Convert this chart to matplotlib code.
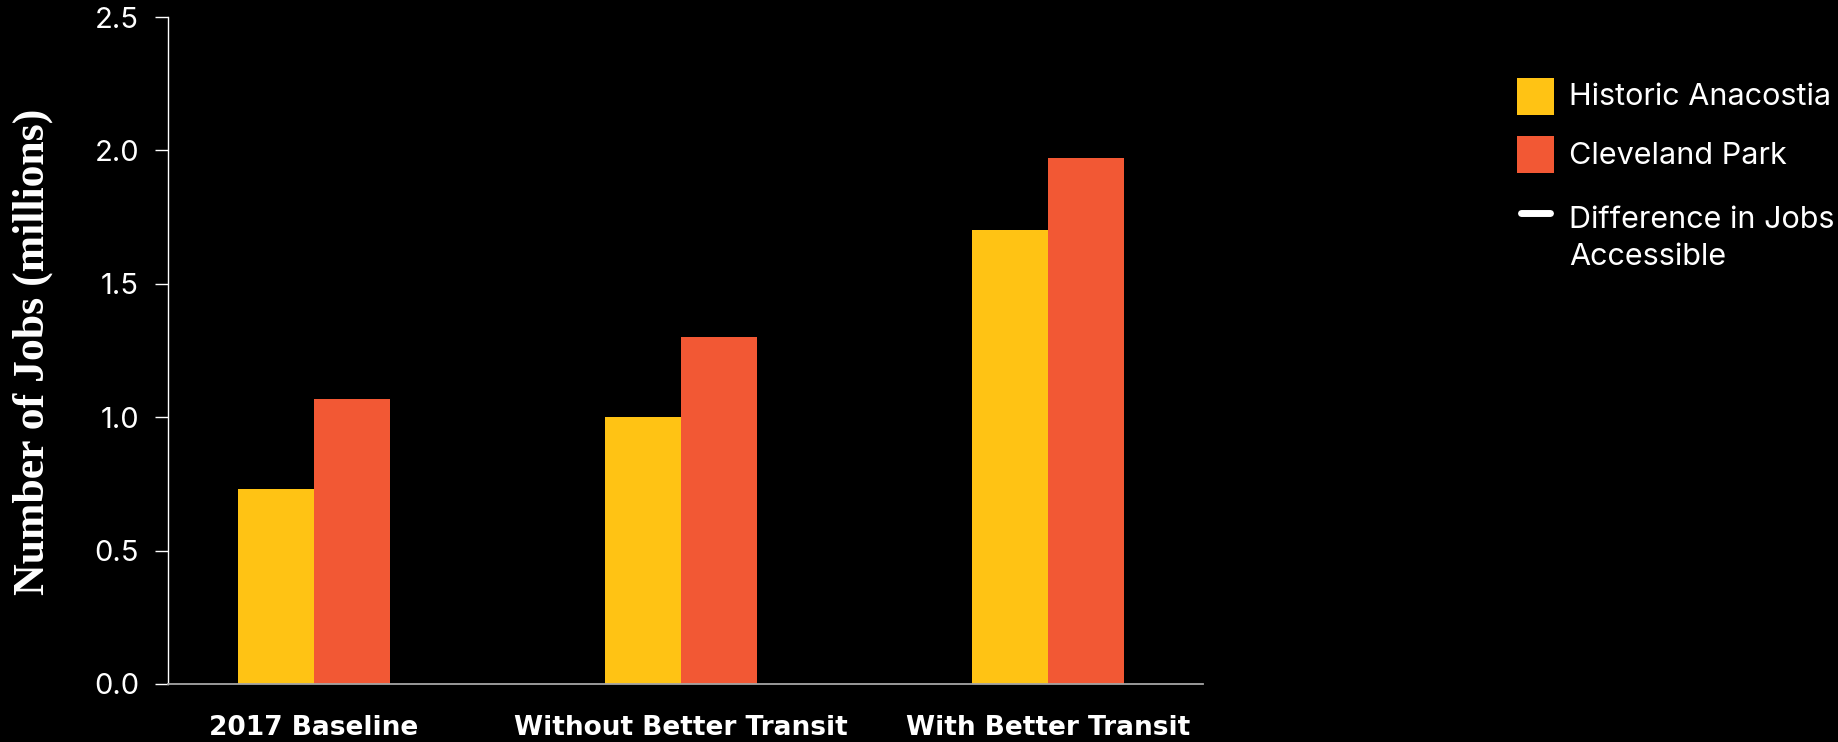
import matplotlib
matplotlib.use("Agg")
import matplotlib.pyplot as plt
import numpy as np
from matplotlib.patches import Rectangle
from matplotlib.lines import Line2D

# Jobs accessible (millions) by scenario
categories = ["2017 Baseline", "Without Better Transit", "With Better Transit"]
anacostia = [0.73, 1.00, 1.70]
cleveland = [1.07, 1.30, 1.97]
y_ticks = [0.0, 0.5, 1.0, 1.5, 2.0, 2.5]
series_names = ["Historic Anacostia", "Cleveland Park", "Difference in Jobs\nAccessible"]

YELLOW = "#FFC314"
ORANGE = "#F25834"
AXIS_GRAY = "#A6A6A6"
SANS = ["Inter", "DejaVu Sans"]
LABEL_SANS = ["DejaVu Sans"]
SERIF = ["Liberation Serif", "DejaVu Serif"]

W, H = 1838, 742
fig = plt.figure(figsize=(W / 100, H / 100), dpi=100, facecolor="black")
ax = fig.add_axes([167.7 / W, 1 - 684 / H, (1202.7 - 167.7) / W, (684 - 17) / H])
ax.set_facecolor("black")

x = np.arange(len(categories))
bw = 0.207
ax.bar(x - bw / 2, anacostia, width=bw, color=YELLOW, linewidth=0)
ax.bar(x + bw / 2, cleveland, width=bw, color=ORANGE, linewidth=0)

ax.set_xlim(-0.3986, 2.4215)
ax.set_ylim(0, 2.5)
ax.set_yticks(y_ticks)
ax.set_yticklabels([f"{v:.1f}" for v in y_ticks], family=SANS, fontsize=21, color="white")
ax.set_xticks(x)
ax.set_xticklabels(categories, family=LABEL_SANS, fontsize=19, fontweight="bold",
                   color="white")

ax.tick_params(axis="y", length=9.6, width=1.0, color="white", pad=11)
ax.tick_params(axis="x", length=0, pad=22)
for side in ("top", "right"):
    ax.spines[side].set_visible(False)
ax.spines["left"].set_color("white")
ax.spines["left"].set_linewidth(1.0)
ax.spines["bottom"].set_color(AXIS_GRAY)
ax.spines["bottom"].set_linewidth(1.3)
ax.yaxis.get_major_ticks()[0].tick1line.set_color(AXIS_GRAY)

fig.text(33 / W, 1 - 351.5 / H, "Number of Jobs (millions)", rotation=90,
         ha="center", va="center", family=SERIF, fontweight="bold",
         fontsize=31.5, color="white")

# Legend
sq = 37
for top, color, label, base in [(78, YELLOW, series_names[0], 105),
                                (136, ORANGE, series_names[1], 164.3)]:
    fig.add_artist(Rectangle((1517 / W, 1 - (top + sq) / H), sq / W, sq / H,
                             transform=fig.transFigure, facecolor=color,
                             edgecolor="none"))
    fig.text(1569 / W, 1 - base / H, label, ha="left", va="baseline",
             family=SANS, fontsize=22, color="white")

fig.add_artist(Line2D([1521 / W, 1550 / W], [1 - 212.7 / H, 1 - 212.7 / H],
                      transform=fig.transFigure, color="white", linewidth=5,
                      solid_capstyle="round"))
fig.text(1569 / W, 1 - 265 / H, series_names[2], ha="left", va="baseline",
         family=SANS, fontsize=22, color="white", linespacing=1.4)

fig.savefig("out.png", dpi=100, facecolor="black")
